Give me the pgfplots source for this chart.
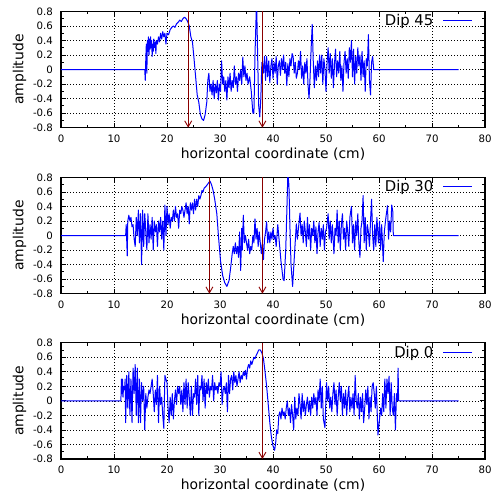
\documentclass[border=0pt]{standalone}
\usepackage{fontspec}
\setmainfont{DejaVu Sans}
\usepackage{pgfplots}
\pgfplotsset{compat=1.18}
\usetikzlibrary{arrows.meta}

\definecolor{sigblue}{RGB}{0,0,255}
\definecolor{arrowred}{RGB}{139,0,0}

\tikzset{dipmark/.style={arrowred, line width=0.9pt, -{Straight Barb[length=6pt,width=7pt]}}}

\pgfplotsset{
  panel/.style={
    scale only axis,
    width=424pt, height=116.3pt,
    anchor=south west,
    xmin=0, xmax=80, ymin=-0.8, ymax=0.8,
    xtick={0,10,20,30,40,50,60,70,80},
    xticklabels={0,10,20,30,40,50,60,70,80},
    ytick={-0.8,-0.6,-0.4,-0.2,0,0.2,0.4,0.6,0.8},
    yticklabels={-0.8,-0.6,-0.4,-0.2,0,0.2,0.4,0.6,0.8},
    minor x tick num=1, minor y tick num=1,
    tick align=inside,
    major tick length=5pt, minor tick length=3pt,
    every tick/.style={black, line width=0.8pt},
    axis line style={black, line width=1.1pt},
    grid=major,
    major grid style={black, line width=0.7pt, dash pattern=on 0.8pt off 2.2pt},
    xticklabel style={font=\fontsize{10.2}{12}\selectfont, yshift=-3.5pt},
    yticklabel style={font=\fontsize{10.2}{12}\selectfont, xshift=-4.5pt},
    xlabel={horizontal coordinate (cm)},
    ylabel={amplitude},
    xlabel style={font=\fontsize{13.9}{16}\selectfont, at={(axis description cs:0.5,-0.265)}, anchor=base},
    ylabel style={font=\fontsize{13.9}{16}\selectfont, at={(axis description cs:-0.0889,0.5)}, anchor=base},
    legend plot pos=right,
    legend cell align=right,
    legend image code/.code={\draw[#1] (0pt,0pt) -- (29pt,0pt);},
    legend style={draw=none, fill=none, font=\fontsize{14.8}{17}\selectfont, column sep=7.5pt,
      at={(axis description cs:1,1)}, anchor=north east, xshift=-9pt, yshift=1pt},
  },
  sig/.style={sigblue, line width=1pt, line join=round},
}

\begin{document}
\begin{tikzpicture}
\useasboundingbox (0,0) rectangle (494pt,493pt);

% Dip 45
\begin{axis}[panel, at={(61pt,365.3pt)}]
\addplot[sig] coordinates {
(0,0) (15.8,0) (15.9,-0.15) (16.0,0.15) (16.1,0.35) (16.2,-0.05) (16.3,0.4) (16.4,0.25)
(16.5,0.45) (16.6,0.2) (16.7,0.42) (16.8,0.28) (16.9,0.45) (17.0,0.3) (17.1,0.4) (17.2,0.18)
(17.3,0.35) (17.4,0.25) (17.5,0.42) (17.6,0.3) (17.8,0.38) (17.9,0.22) (18.0,0.4) (18.2,0.35)
(18.4,0.45) (18.6,0.38) (18.8,0.5) (19.0,0.42) (19.2,0.52) (19.4,0.45) (19.6,0.5) (19.8,0.35)
(20.0,0.5) (20.3,0.48) (20.6,0.55) (20.9,0.58) (21.2,0.6) (21.5,0.58) (21.8,0.63) (22.1,0.65)
(22.4,0.68) (22.7,0.66) (23.0,0.7) (23.3,0.72) (23.6,0.7) (23.9,0.66) (24.2,0.6) (24.5,0.45)
(24.8,0.38) (25.1,0.15) (25.4,-0.1) (25.7,-0.35) (26.0,-0.45) (26.3,-0.62) (26.6,-0.68) (26.9,-0.7)
(27.2,-0.62) (27.5,-0.45) (27.7,-0.15) (27.9,-0.05) (28.1,-0.3) (28.3,-0.2) (28.5,-0.35) (28.7,-0.15)
(28.9,-0.4) (29.1,-0.2) (29.3,-0.32) (29.5,-0.15) (29.7,-0.42) (29.9,-0.2) (30.1,-0.3) (30.3,0.12)
(30.5,-0.2) (30.7,-0.1) (30.9,-0.3) (31.1,-0.15) (31.3,-0.42) (31.5,-0.1) (31.7,-0.25) (31.9,-0.05)
(32.1,-0.3) (32.3,-0.15) (32.5,-0.25) (32.7,0.05) (32.9,-0.2) (33.1,-0.1) (33.3,-0.3) (33.5,-0.05)
(33.7,-0.15) (33.9,0.0) (34.1,-0.2) (34.3,0.17) (34.5,-0.1) (34.7,0.05) (34.9,-0.15) (35.1,-0.05)
(35.3,-0.2) (35.6,-0.1) (35.9,-0.3) (36.2,-0.6) (36.4,-0.6) (36.6,0.2) (36.9,0.95) (37.1,0.2)
(37.3,-0.5) (37.5,-0.65) (37.7,-0.4) (37.9,0.1)
(38.0,0.10) (38.2,-0.05) (38.4,0.18) (38.6,-0.15) (38.8,0.18) (39.0,-0.1) (39.2,0.12) (39.4,-0.18)
(39.6,0.05) (39.8,0.15) (40.0,-0.12) (40.2,0.1) (40.4,-0.05) (40.6,0.18) (40.8,-0.2) (41.0,0.05)
(41.2,0.12) (41.4,-0.08) (41.6,0.15) (41.8,0.0) (42.0,0.2) (42.2,-0.05) (42.4,0.1) (42.6,-0.22)
(42.8,0.08) (43.0,-0.1) (43.2,0.15) (43.4,0.05) (43.6,0.22) (43.8,0.18) (44.0,-0.05) (44.2,0.1)
(44.4,-0.12) (44.6,-0.05) (44.8,0.12) (45.0,0.0) (45.2,0.25) (45.4,-0.12) (45.6,0.05) (45.8,-0.2)
(46.0,0.1) (46.2,-0.05) (46.4,0.15) (46.6,-0.2) (46.8,-0.4) (47.0,-0.1) (47.2,0.3) (47.4,0.62)
(47.6,0.1) (47.8,-0.25) (48.0,0.05) (48.2,-0.15) (48.4,0.12) (48.6,-0.1) (48.8,0.2) (49.0,-0.05)
(49.2,0.2) (49.4,-0.2) (49.6,0.15) (49.8,0.0) (50.0,-0.3) (50.2,0.1) (50.4,0.3) (50.6,-0.05)
(50.8,0.22) (51.0,-0.12) (51.2,0.15) (51.4,-0.25) (51.6,0.08) (51.8,0.28) (52.0,-0.1) (52.2,0.12)
(52.4,-0.05) (52.6,0.25) (52.8,-0.15) (53.0,0.05) (53.2,-0.3) (53.4,0.1) (53.6,0.25) (53.8,-0.05)
(54.0,0.15) (54.2,-0.12) (54.4,0.3) (54.6,0.1) (54.8,0.4) (55.0,-0.1) (55.2,0.28) (55.4,-0.2)
(55.6,0.18) (55.8,-0.05) (56.0,0.3) (56.2,0.05) (56.4,0.2) (56.6,-0.15) (56.8,0.25) (57.0,-0.1)
(57.2,0.12) (57.4,-0.3) (57.6,0.15) (57.8,0.05) (58.0,0.48) (58.2,-0.15) (58.4,-0.35) (58.6,0.1)
(58.8,0.18) (59.0,0.0) (75,0)
};
\addlegendentry{Dip 45}
\draw[dipmark] (axis cs:24,0.8) -- (axis cs:24,-0.8);
\draw[dipmark] (axis cs:38,0.8) -- (axis cs:38,-0.8);
\end{axis}

% Dip 30
\begin{axis}[panel, at={(61pt,199.3pt)}]
\addplot[sig] coordinates {
(0,0) (12.2,0) (12.3,0.15) (12.5,-0.28) (12.6,0.2) (12.8,0.28) (13.0,0.2) (13.2,0.25)
(13.4,0.12) (13.6,0.15) (13.8,-0.05) (14.0,-0.15) (14.2,0.25) (14.4,0.0) (14.6,0.35) (14.8,-0.1)
(15.0,0.3) (15.2,-0.4) (15.4,0.35) (15.6,-0.15) (15.8,0.3) (16.0,0.05) (16.2,-0.2) (16.4,0.3)
(16.6,-0.1) (16.8,0.15) (17.0,-0.05) (17.2,0.25) (17.4,-0.2) (17.6,0.2) (17.8,0.05) (18.0,0.15)
(18.2,-0.15) (18.4,0.2) (18.6,0.05) (18.8,0.25) (19.0,-0.05) (19.2,0.2) (19.4,-0.2) (19.6,0.42)
(19.8,0.0) (20.0,0.4) (20.2,0.15) (20.4,0.3) (20.6,0.1) (20.8,0.25) (21.0,0.2) (21.2,0.35)
(21.4,0.2) (21.6,0.4) (21.8,0.25) (22.0,0.3) (22.2,0.1) (22.4,0.35) (22.6,0.3) (22.8,0.4)
(23.0,0.35) (23.2,0.25) (23.4,0.35) (23.6,0.45) (23.8,0.3) (24.0,0.4) (24.2,0.16) (24.4,0.45)
(24.6,0.35) (24.8,0.45) (25.0,0.3) (25.2,0.5) (25.4,0.35) (25.6,0.5) (25.8,0.4) (26.0,0.55)
(26.2,0.5) (26.4,0.55) (26.6,0.62) (26.8,0.6) (27.0,0.65) (27.4,0.68) (27.8,0.72) (28.1,0.75)
(28.4,0.7) (28.7,0.62) (29.0,0.5) (29.4,0.3) (29.7,0.0) (30.1,-0.35) (30.5,-0.55) (30.9,-0.65)
(31.3,-0.7) (31.7,-0.62) (32.0,-0.45) (32.3,-0.25) (32.5,-0.15) (32.7,-0.25) (32.9,-0.1) (33.1,-0.25)
(33.3,-0.15) (33.5,-0.3) (33.7,0.05) (33.9,-0.48) (34.1,0.1) (34.2,-0.2) (34.4,0.28) (34.6,-0.1)
(34.8,0.0) (35.0,-0.1) (35.2,-0.2) (35.4,-0.05) (35.6,-0.25) (35.8,-0.15) (36.0,-0.2) (36.2,0.0)
(36.4,-0.1) (36.6,0.23) (36.8,-0.05) (37.0,0.1) (37.2,-0.15) (37.4,0.05) (37.6,-0.1) (37.8,-0.25)
(38.0,-0.1) (38.2,-0.33) (38.4,-0.05) (38.6,0.05) (38.8,0.19) (39.0,-0.1) (39.2,0.05) (39.4,-0.1)
(39.6,0.05) (39.8,-0.05) (40.0,0.1) (40.2,-0.05) (40.4,0.0) (40.6,-0.15) (40.9,0.15) (41.2,-0.1)
(41.5,-0.35) (41.9,-0.6) (42.1,-0.62) (42.4,-0.2) (42.6,0.3) (42.8,0.85) (43.0,0.7) (43.2,0.1)
(43.4,-0.4) (43.7,-0.7) (43.9,-0.45) (44.1,-0.2) (44.4,0.16) (44.6,-0.05) (44.8,0.1) (45.1,0.31)
(45.3,0.0) (45.5,0.15) (45.7,-0.1) (45.9,0.2) (46.1,0.05) (46.3,-0.15) (46.5,0.25) (46.7,-0.05)
(46.9,0.15) (47.1,-0.2) (47.3,0.1) (47.5,0.0) (47.7,0.2) (47.9,-0.1) (48.1,0.12) (48.3,-0.25)
(48.5,0.05) (48.7,0.18) (48.9,-0.15) (49.1,0.1) (49.3,-0.05) (49.5,0.15) (49.7,-0.2) (49.9,0.05)
(50.1,0.1) (50.4,0.3) (50.6,-0.05) (50.8,0.2) (51.0,-0.1) (51.2,0.15) (51.5,-0.25) (51.7,0.1)
(51.9,0.0) (52.1,0.35) (52.3,-0.1) (52.5,0.2) (52.7,-0.2) (52.9,0.15) (53.1,0.3) (53.3,-0.05)
(53.5,0.1) (53.7,-0.2) (53.9,0.2) (54.1,0.05) (54.3,-0.15) (54.5,0.25) (54.8,0.4) (55.0,-0.1)
(55.2,0.15) (55.4,-0.2) (55.6,0.2) (55.8,0.0) (56.0,0.3) (56.2,-0.1) (56.4,-0.3) (56.6,0.1)
(56.8,0.2) (57.0,0.55) (57.2,-0.1) (57.4,0.25) (57.6,-0.2) (57.8,0.15) (58.0,0.05) (58.2,-0.15)
(58.4,0.2) (58.6,0.5) (58.8,0.0) (59.0,-0.2) (59.2,0.15) (59.4,-0.15) (59.6,0.25) (59.9,-0.1)
(60.1,0.2) (60.3,-0.2) (60.5,0.15) (60.8,-0.36) (61.0,0.05) (61.3,0.25) (61.6,0.41) (61.8,-0.05)
(62.0,0.2) (62.2,0.05) (62.4,0.42) (62.6,0.33) (62.7,0.0) (75,0)
};
\addlegendentry{Dip 30}
\draw[dipmark] (axis cs:28,0.8) -- (axis cs:28,-0.8);
\draw[dipmark] (axis cs:38,0.8) -- (axis cs:38,-0.8);
\end{axis}

% Dip 0
\begin{axis}[panel, at={(61pt,34pt)}]
\addplot[sig] coordinates {
(0,0) (11.3,0) (11.4,0.3) (11.5,0.1) (11.6,0.3) (11.7,0.05) (11.8,0.2) (12.0,0.15)
(12.1,0.3) (12.2,-0.3) (12.4,0.35) (12.6,-0.1) (12.8,0.4) (13.0,-0.2) (13.2,0.3) (13.4,-0.3)
(13.6,0.45) (13.8,0.1) (14.0,0.5) (14.2,-0.2) (14.4,0.45) (14.6,-0.3) (14.8,0.3) (15.0,-0.3)
(15.2,0.25) (15.4,0.0) (15.6,0.2) (15.8,-0.4) (16.0,0.1) (16.2,-0.1) (16.4,0.05) (16.6,0.15)
(16.8,0.1) (17.0,0.2) (17.2,0.3) (17.4,0.1) (17.6,-0.15) (17.8,0.15) (18.0,-0.05) (18.2,0.35)
(18.4,-0.3) (18.6,0.2) (18.8,-0.05) (19.0,0.05) (19.2,-0.2) (19.4,-0.38) (19.6,0.35) (19.8,0.3)
(20.0,0.25) (20.2,-0.1) (20.4,-0.3) (20.6,0.05) (20.8,-0.2) (21.0,0.1) (21.2,-0.25) (21.4,0.0)
(21.6,0.15) (21.8,-0.05) (22.0,0.2) (22.2,0.1) (22.4,0.2) (22.6,-0.05) (22.8,0.15) (23.0,-0.15)
(23.2,0.25) (23.4,-0.05) (23.6,0.3) (23.8,-0.1) (24.0,0.25) (24.2,0.05) (24.4,-0.2) (24.6,0.2)
(24.8,-0.2) (25.0,0.1) (25.2,0.05) (25.4,0.3) (25.6,-0.05) (25.8,0.35) (26.0,-0.2) (26.2,0.2)
(26.4,0.15) (26.6,0.35) (26.8,0.0) (27.0,0.3) (27.2,-0.1) (27.4,0.25) (27.6,0.1) (27.8,0.3)
(28.0,0.05) (28.2,0.2) (28.4,0.15) (28.6,0.35) (28.8,0.0) (29.0,0.25) (29.2,0.15) (29.4,0.2)
(29.6,0.1) (29.8,0.25) (30.0,0.2) (30.2,0.4) (30.4,-0.05) (30.6,0.15) (30.8,0.2) (31.0,0.1)
(31.2,0.25) (31.4,-0.15) (31.6,0.35) (31.8,0.1) (32.0,0.3) (32.2,0.35) (32.4,0.15) (32.6,0.4)
(32.8,0.25) (33.0,0.35) (33.2,0.2) (33.4,0.3) (33.6,0.4) (33.8,0.25) (34.0,0.35) (34.2,0.3)
(34.4,0.4) (34.6,0.35) (34.8,0.42) (35.0,0.3) (35.2,0.45) (35.4,0.5) (35.6,0.45) (35.8,0.55)
(36.0,0.5) (36.2,0.55) (36.4,0.6) (36.6,0.58) (36.8,0.62) (37.0,0.65) (37.3,0.7) (37.6,0.7)
(37.9,0.66) (38.2,0.58) (38.5,0.4) (38.8,0.2) (39.1,-0.05) (39.4,-0.3) (39.7,-0.5) (40.0,-0.62)
(40.3,-0.68) (40.5,-0.58) (40.7,-0.4) (40.9,-0.45) (41.1,-0.2) (41.3,-0.15) (41.5,-0.25) (41.7,-0.1)
(41.9,-0.2) (42.1,-0.15) (42.3,-0.25) (42.5,-0.1) (42.7,0.0) (42.9,-0.2) (43.1,-0.1) (43.3,-0.3)
(43.5,-0.05) (43.7,-0.2) (43.9,-0.4) (44.1,0.05) (44.3,-0.25) (44.5,-0.1) (44.7,-0.2) (44.9,0.1)
(45.1,-0.05) (45.3,-0.25) (45.5,0.1) (45.7,-0.15) (45.9,0.0) (46.1,-0.2) (46.3,-0.05) (46.5,0.05)
(46.7,-0.15) (46.9,0.0) (47.1,-0.2) (47.3,0.05) (47.5,-0.1) (47.7,0.1) (47.9,-0.05) (48.1,0.05)
(48.3,-0.2) (48.5,0.15) (48.7,0.0) (48.9,0.3) (49.1,-0.1) (49.3,0.2) (49.5,-0.25) (49.8,-0.37)
(50.1,0.25) (50.3,0.0) (50.5,0.2) (50.7,-0.1) (50.9,0.05) (51.1,-0.15) (51.3,0.1) (51.5,0.25)
(51.7,-0.05) (51.9,0.15) (52.1,-0.2) (52.3,0.05) (52.5,0.25) (52.7,0.0) (52.9,0.2) (53.1,-0.2)
(53.3,0.1) (53.5,-0.1) (53.7,0.15) (53.9,-0.2) (54.1,0.05) (54.3,0.2) (54.5,-0.15) (54.7,0.05)
(54.9,-0.1) (55.1,0.1) (55.3,-0.2) (55.5,0.35) (55.7,0.0) (55.9,-0.1) (56.1,0.1) (56.3,-0.25)
(56.5,0.05) (56.7,-0.15) (56.9,0.1) (57.1,-0.3) (57.3,-0.1) (57.5,0.15) (57.7,-0.05) (57.9,0.2)
(58.1,-0.25) (58.3,0.05) (58.5,-0.15) (58.7,0.2) (58.9,0.25) (59.1,0.1) (59.3,-0.1) (59.5,0.2)
(59.8,-0.47) (60.1,-0.25) (60.3,-0.1) (60.5,-0.2) (60.7,0.1) (60.9,-0.15) (61.1,0.3) (61.3,-0.1)
(61.5,0.3) (61.7,0.1) (61.9,0.34) (62.1,-0.2) (62.3,0.25) (62.5,-0.1) (62.7,-0.2) (62.9,0.1)
(63.1,-0.4) (63.3,0.1) (63.5,0.0) (63.6,0.45) (63.7,0.0) (75,0)
};
\addlegendentry{Dip 0}
\draw[dipmark] (axis cs:38,0.8) -- (axis cs:38,-0.8);
\end{axis}
\end{tikzpicture}
\end{document}
